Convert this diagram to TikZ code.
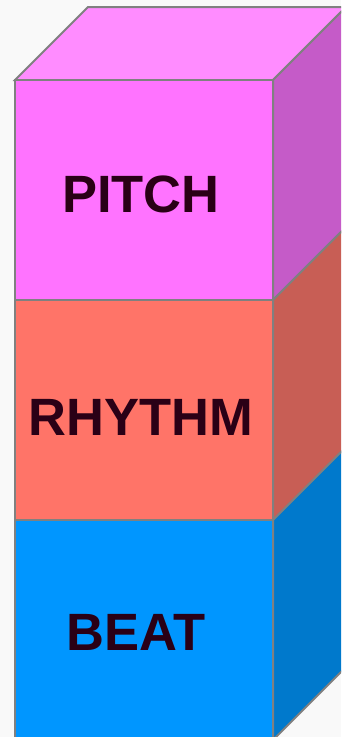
\documentclass[tikz,border=0pt]{standalone}
\usepackage{fontspec}
\setmainfont{Liberation Sans}
\definecolor{bg}{HTML}{F9F9F9}
\definecolor{edge}{HTML}{808080}
\definecolor{ptop}{HTML}{FF8CFF}
\definecolor{pfront}{HTML}{FF73FF}
\definecolor{pside}{HTML}{C55BC8}
\definecolor{rfront}{HTML}{FF7468}
\definecolor{rside}{HTML}{C85E55}
\definecolor{bfront}{HTML}{0096FF}
\definecolor{bside}{HTML}{0079CC}
\definecolor{txt}{HTML}{2A0016}
\begin{document}
\begin{tikzpicture}[x=1pt,y=-1pt,
  face/.style={draw=edge,line width=2pt,line join=miter},
  lbl/.style={anchor=base,inner sep=0pt,text=txt,font=\fontsize{52.5}{58}\selectfont\bfseries}]
\useasboundingbox (0,0) rectangle (341,737);
\fill[bg] (0,0) rectangle (341,737);
\begin{scope}
\clip (0,0) rectangle (341,737);
% top face
\filldraw[face,fill=ptop] (15,80) -- (88,7) -- (346,7) -- (273,80) -- cycle;
% side faces
\filldraw[face,fill=pside] (273,80) -- (346,7) -- (346,227) -- (273,300) -- cycle;
\filldraw[face,fill=rside] (273,300) -- (346,227) -- (346,447) -- (273,520) -- cycle;
\filldraw[face,fill=bside] (273,520) -- (346,447) -- (346,667) -- (273,740) -- cycle;
% front faces
\filldraw[face,fill=pfront] (15,80) rectangle (273,300);
\filldraw[face,fill=rfront] (15,300) rectangle (273,520);
\filldraw[face,fill=bfront] (15,520) rectangle (273,740);
\end{scope}
\node[lbl] (pitch) at (141,212) {PITCH};
\node[lbl] (rhythm) at (141,435) {RHYTHM};
\node[lbl] (beat) at (136.5,650) {BEAT};
\end{tikzpicture}
\end{document}
